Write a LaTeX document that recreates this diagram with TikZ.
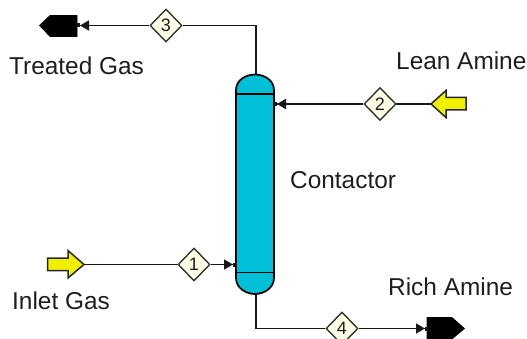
\documentclass[tikz,border=0pt]{standalone}
\usepackage{fontspec}
\setmainfont{Liberation Sans}
\usetikzlibrary{shapes.geometric,arrows.meta}
\definecolor{colfill}{HTML}{00C0D8}
\definecolor{feedfill}{HTML}{F0F000}
\definecolor{tagfill}{HTML}{FFFFE6}
\definecolor{inktext}{HTML}{1E1E1E}
\tikzset{
  tag/.style={shape=diamond,draw=black!80,fill=tagfill,line width=1.4pt,inner sep=0pt,minimum width=32pt,minimum height=33pt,font=\fontsize{18}{18}\selectfont,text=inktext},
  label/.style={anchor=base west,inner sep=0pt,font=\fontsize{24.4}{25}\selectfont,text=inktext},
  stream/.style={draw=black!90,line width=1.7pt},
  flow/.style={stream,-{Triangle[length=9pt,width=10pt]Rectangle[length=3pt,width=4pt,sep=-1pt]}},
  feedarrow/.style={draw=black!85,fill=feedfill,line width=1.5pt,line join=miter},
  product/.style={fill=black,draw=black,line width=.6pt},
  vessel/.style={draw=black,fill=colfill,line width=1.7pt},
  tanline/.style={draw=black,line width=1.4pt}
}
\begin{document}
\begin{tikzpicture}[x=1pt,y=-1pt]
\useasboundingbox (0,0) rectangle (527,339);
% vessel
\path[vessel] (236,90) .. controls (236,80) and (246,74.5) .. (255,74.5) .. controls (264,74.5) and (274,80) .. (274,90)
  -- (274,278) .. controls (274,288) and (264,294) .. (255,294) .. controls (246,294) and (236,288) .. (236,278) -- cycle;
\draw[tanline] (236,94) -- (274,94);
\draw[tanline] (236,272.5) -- (274,272.5);
\coordinate (coltop) at (256,75);
\coordinate (colbot) at (256,294);
\coordinate (colleft) at (235,264.5);
\coordinate (colright) at (275,104);
% feeds and products
\path[feedarrow] (47.5,258) -- (68,258) -- (68,250.5) -- (84,264.5) -- (68,278) -- (68,270.5) -- (47.5,270.5) -- cycle;
\coordinate (inlet) at (84,264.5);
\path[feedarrow] (466,97.5) -- (446,97.5) -- (446,90.5) -- (431,104) -- (446,117.5) -- (446,110) -- (466,110) -- cycle;
\coordinate (lean) at (431,104);
\path[product] (39.5,25.5) -- (50,15.5) -- (77,15.5) -- (77,36.5) -- (50,36.5) -- cycle;
\coordinate (treated) at (78,25.5);
\path[product] (427,317.5) -- (452,317.5) -- (464.5,328.5) -- (452,339) -- (427,339) -- cycle;
\coordinate (rich) at (427,328.5);
% streams
\draw[stream] (inlet) -- (194,264.5);
\draw[stream] (lean) -- (380,104);
% tags
\node[tag] (t1) at (194,264.5) {1};
\node[tag] (t2) at (380,104) {2};
\node[tag] (t3) at (166,25.5) {3};
\node[tag] (t4) at (342,328.5) {4};
% streams
\draw[flow] (t1) -- (colleft);
\draw[flow] (t2) -- (colright);
\draw[stream] (coltop) |- (t3);
\draw[flow] (t3) -- (treated);
\draw[stream] (colbot) |- (t4);
\draw[flow] (t4) -- (rich);
% labels
\node[label] (lbltreated) at (9,75) {Treated Gas};
\node[label] (lbllean) at (396,70) {Lean Amine};
\node[label] (lblcontactor) at (290,189) {Contactor};
\node[label] (lblinlet) at (12,309) {Inlet Gas};
\node[label] (lblrich) at (388,295) {Rich Amine};
\end{tikzpicture}
\end{document}
